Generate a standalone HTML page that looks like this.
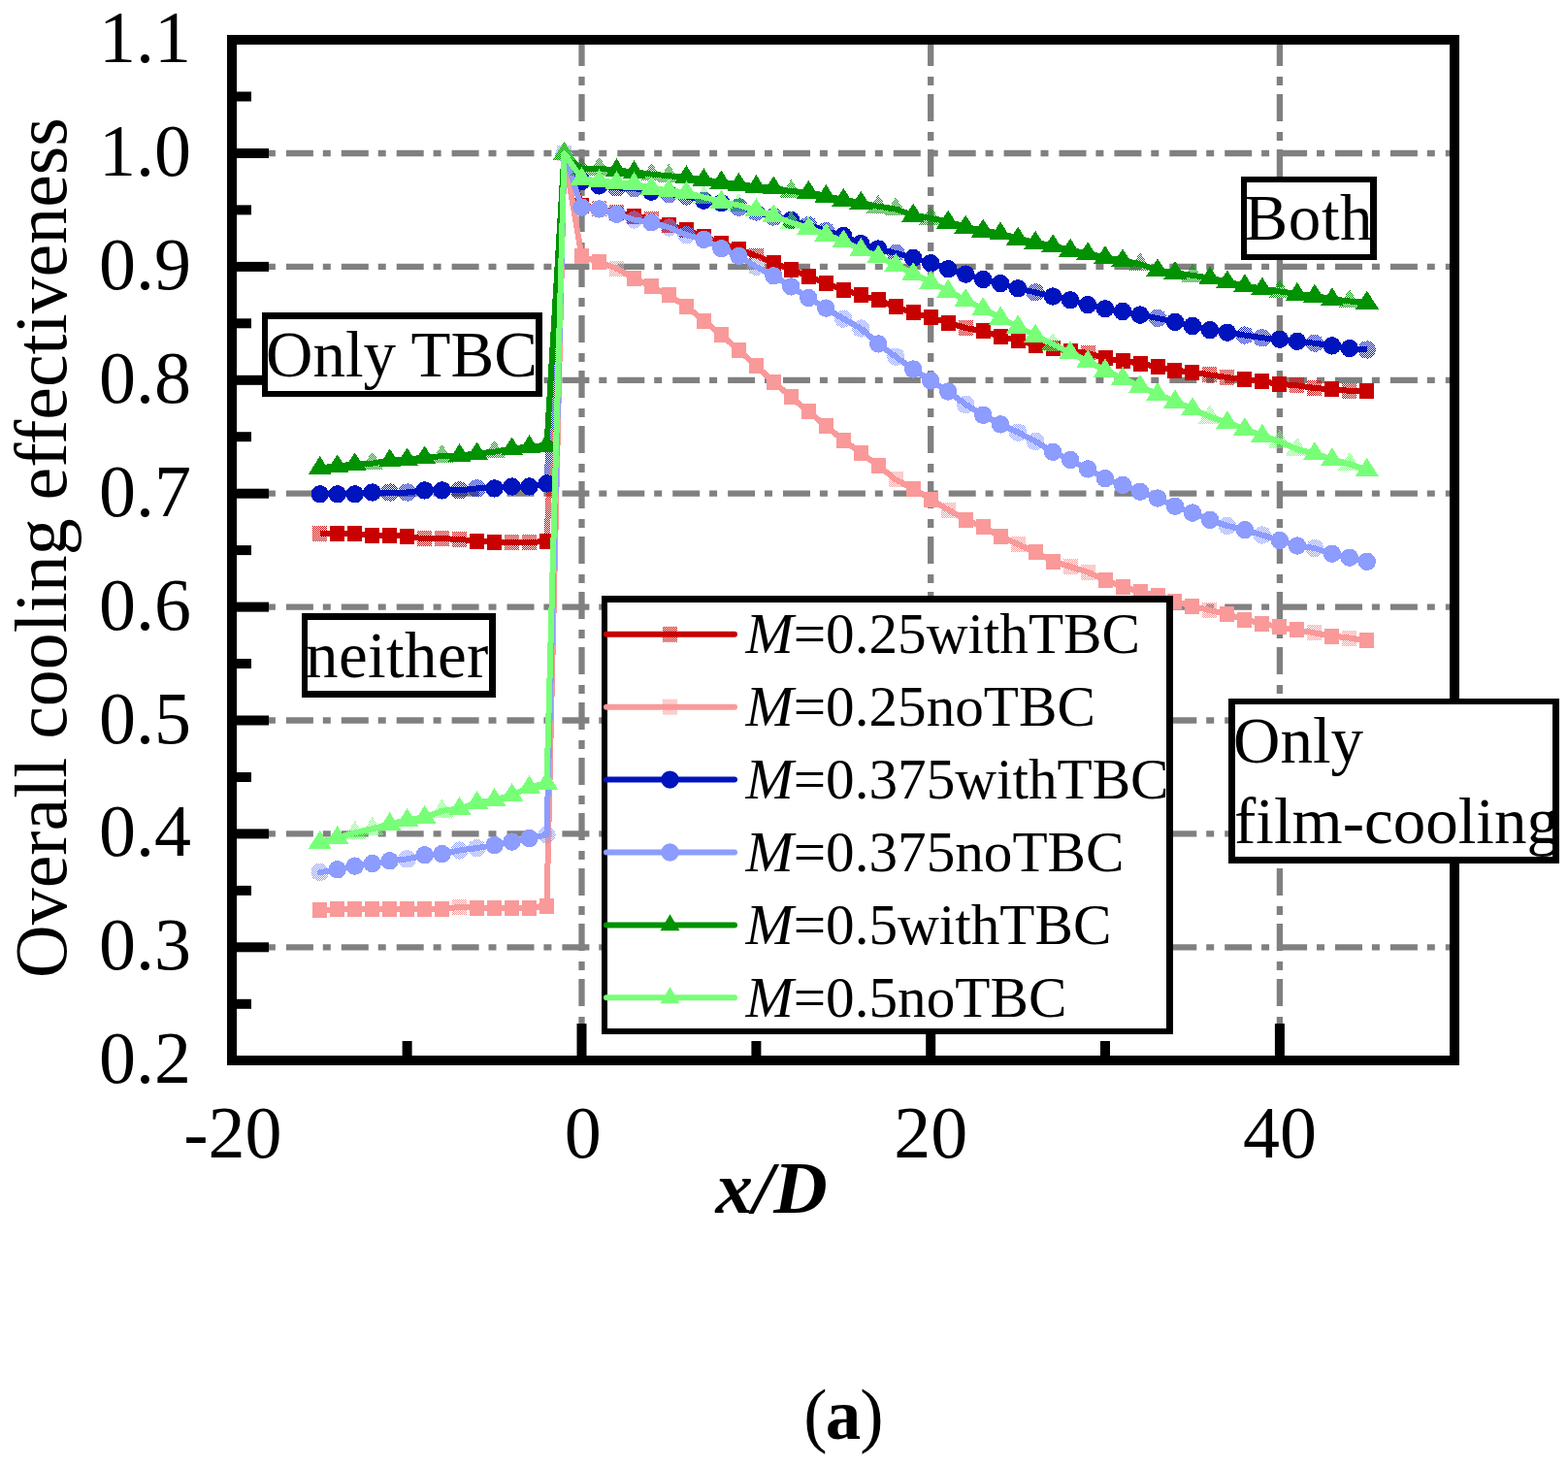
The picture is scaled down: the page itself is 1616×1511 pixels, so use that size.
<!DOCTYPE html>
<html><head><meta charset="utf-8"><title>Overall cooling effectiveness</title>
<style>html,body{margin:0;padding:0;background:#fff;}svg{display:block;}</style>
</head><body>
<svg width="1616" height="1511" viewBox="0 0 1616 1511">
<defs><pattern id="dA" width="2" height="2" patternUnits="userSpaceOnUse"><rect width="1" height="1" fill="#c80000"/><rect x="1" y="1" width="1" height="1" fill="#c80000"/></pattern><pattern id="tA" width="2" height="2" patternUnits="userSpaceOnUse"><rect width="1" height="1" fill="#c80000"/><rect x="1" y="1" width="1" height="1" fill="#c80000"/></pattern><pattern id="dB" width="2" height="2" patternUnits="userSpaceOnUse"><rect width="1" height="1" fill="#fa9999"/><rect x="1" y="1" width="1" height="1" fill="#fa9999"/></pattern><pattern id="tB" width="2" height="2" patternUnits="userSpaceOnUse"><rect width="1" height="1" fill="#fa9999"/><rect x="1" y="1" width="1" height="1" fill="#fa9999"/></pattern><pattern id="dC" width="2" height="2" patternUnits="userSpaceOnUse"><rect width="1" height="1" fill="#0014be"/><rect x="1" y="1" width="1" height="1" fill="#0014be"/></pattern><pattern id="dD" width="2" height="2" patternUnits="userSpaceOnUse"><rect width="1" height="1" fill="#8c9cff"/><rect x="1" y="1" width="1" height="1" fill="#8c9cff"/></pattern><pattern id="dE" width="2" height="2" patternUnits="userSpaceOnUse"><rect width="1" height="1" fill="#009200"/><rect x="1" y="1" width="1" height="1" fill="#009200"/></pattern><pattern id="dF" width="2" height="2" patternUnits="userSpaceOnUse"><rect x="1" width="1" height="1" fill="#78ff78"/><rect y="1" width="1" height="1" fill="#78ff78"/></pattern></defs>
<rect width="1616" height="1511" fill="#fff"/>
<g stroke="#808080" stroke-width="6.3" fill="none"><line x1="238" y1="976.3" x2="1499" y2="976.3" stroke-dasharray="28 9.9 8 11"/><line x1="238" y1="859.4" x2="1499" y2="859.4" stroke-dasharray="28 9.9 8 11"/><line x1="238" y1="742.5" x2="1499" y2="742.5" stroke-dasharray="28 9.9 8 11"/><line x1="238" y1="625.6" x2="1499" y2="625.6" stroke-dasharray="28 9.9 8 11"/><line x1="238" y1="508.7" x2="1499" y2="508.7" stroke-dasharray="28 9.9 8 11"/><line x1="238" y1="391.8" x2="1499" y2="391.8" stroke-dasharray="28 9.9 8 11"/><line x1="238" y1="274.9" x2="1499" y2="274.9" stroke-dasharray="28 9.9 8 11"/><line x1="238" y1="158.0" x2="1499" y2="158.0" stroke-dasharray="28 9.9 8 11"/><line x1="599.5" y1="1094" x2="599.5" y2="41" stroke-dasharray="28 9 9 11"/><line x1="959.2" y1="1094" x2="959.2" y2="41" stroke-dasharray="28 9 9 11"/><line x1="1318.9" y1="1094" x2="1318.9" y2="41" stroke-dasharray="28 9 9 11"/></g>
<g shape-rendering="crispEdges">
<path d="M329.7 550.1 L347.7 550.1 L365.7 550.1 L383.7 551.6 L401.7 551.6 L419.6 553.1 L437.6 555.1 L455.6 555.1 L473.6 556.0 L491.6 557.6 L509.6 559.1 L527.6 559.1 L545.5 559.1 L563.5 557.8" fill="none" stroke="#c80000" stroke-width="6" stroke-linejoin="round" stroke-linecap="butt"/>
<path d="M563.5 557.8 L581.5 158.0" fill="none" stroke="url(#tA)" stroke-width="6" stroke-linejoin="round" stroke-linecap="butt"/>
<path d="M581.5 158.0 L599.5 211.8 L617.5 215.3 L635.5 218.8 L653.5 222.8 L671.4 225.6 L689.4 232.0 L707.4 236.8 L725.4 243.8 L743.4 250.9 L761.4 256.7 L779.4 263.8 L797.3 270.8 L815.3 277.8 L833.3 284.8 L851.3 291.9 L869.3 298.7 L887.3 304.4 L905.2 309.4 L923.2 316.3 L941.2 322.4 L959.2 327.4 L977.2 332.6 L995.2 338.0 L1013.2 341.3 L1031.1 346.9 L1049.1 350.8 L1067.1 355.7 L1085.1 359.1 L1103.1 361.9 L1121.1 363.7 L1139.0 369.5 L1157.0 371.9 L1175.0 374.7 L1193.0 378.2 L1211.0 381.7 L1229.0 383.6 L1247.0 386.4 L1264.9 389.1 L1282.9 391.0 L1300.9 393.2 L1318.9 395.9 L1336.9 397.3 L1354.9 400.0 L1372.9 401.4 L1390.8 402.7 L1408.8 403.5" fill="none" stroke="#c80000" stroke-width="6" stroke-linejoin="round" stroke-linecap="butt"/>
<rect x="322.23" y="542.08" width="15" height="16" fill="url(#dA)"/>
<rect x="340.21" y="542.08" width="15" height="16" fill="#c80000"/>
<rect x="358.19" y="542.08" width="15" height="16" fill="#c80000"/>
<rect x="376.18" y="543.60" width="15" height="16" fill="#c80000"/>
<rect x="394.17" y="543.60" width="15" height="16" fill="#c80000"/>
<rect x="412.15" y="545.12" width="15" height="16" fill="#c80000"/>
<rect x="430.13" y="547.11" width="15" height="16" fill="url(#dA)"/>
<rect x="448.12" y="547.11" width="15" height="16" fill="url(#dA)"/>
<rect x="466.11" y="548.04" width="15" height="16" fill="url(#dA)"/>
<rect x="484.09" y="549.56" width="15" height="16" fill="#c80000"/>
<rect x="502.07" y="551.08" width="15" height="16" fill="#c80000"/>
<rect x="520.06" y="551.08" width="15" height="16" fill="url(#dA)"/>
<rect x="538.04" y="551.08" width="15" height="16" fill="url(#dA)"/>
<rect x="556.03" y="549.80" width="15" height="16" fill="#c80000"/>
<rect x="574.01" y="150.00" width="15" height="16" fill="url(#dA)"/>
<rect x="592.00" y="203.77" width="15" height="16" fill="#c80000"/>
<rect x="609.99" y="207.28" width="15" height="16" fill="url(#dA)"/>
<rect x="627.97" y="210.79" width="15" height="16" fill="url(#dA)"/>
<rect x="645.96" y="214.76" width="15" height="16" fill="#c80000"/>
<rect x="663.94" y="217.57" width="15" height="16" fill="url(#dA)"/>
<rect x="681.92" y="224.00" width="15" height="16" fill="#c80000"/>
<rect x="699.91" y="228.79" width="15" height="16" fill="#c80000"/>
<rect x="717.89" y="235.80" width="15" height="16" fill="#c80000"/>
<rect x="735.88" y="242.94" width="15" height="16" fill="#c80000"/>
<rect x="753.87" y="248.66" width="15" height="16" fill="#c80000"/>
<rect x="771.85" y="255.79" width="15" height="16" fill="url(#dA)"/>
<rect x="789.84" y="262.81" width="15" height="16" fill="#c80000"/>
<rect x="807.82" y="269.82" width="15" height="16" fill="#c80000"/>
<rect x="825.81" y="276.84" width="15" height="16" fill="#c80000"/>
<rect x="843.79" y="283.85" width="15" height="16" fill="#c80000"/>
<rect x="861.77" y="290.75" width="15" height="16" fill="#c80000"/>
<rect x="879.76" y="296.36" width="15" height="16" fill="#c80000"/>
<rect x="897.75" y="301.39" width="15" height="16" fill="#c80000"/>
<rect x="915.73" y="308.28" width="15" height="16" fill="#c80000"/>
<rect x="933.71" y="314.36" width="15" height="16" fill="#c80000"/>
<rect x="951.70" y="319.39" width="15" height="16" fill="#c80000"/>
<rect x="969.68" y="324.65" width="15" height="16" fill="#c80000"/>
<rect x="987.67" y="330.03" width="15" height="16" fill="url(#dA)"/>
<rect x="1005.65" y="333.30" width="15" height="16" fill="#c80000"/>
<rect x="1023.64" y="338.91" width="15" height="16" fill="#c80000"/>
<rect x="1041.62" y="342.77" width="15" height="16" fill="#c80000"/>
<rect x="1059.61" y="347.68" width="15" height="16" fill="#c80000"/>
<rect x="1077.60" y="351.07" width="15" height="16" fill="#c80000"/>
<rect x="1095.58" y="353.87" width="15" height="16" fill="#c80000"/>
<rect x="1113.57" y="355.74" width="15" height="16" fill="url(#dA)"/>
<rect x="1131.55" y="361.47" width="15" height="16" fill="#c80000"/>
<rect x="1149.53" y="363.93" width="15" height="16" fill="#c80000"/>
<rect x="1167.52" y="366.73" width="15" height="16" fill="#c80000"/>
<rect x="1185.51" y="370.24" width="15" height="16" fill="#c80000"/>
<rect x="1203.49" y="373.75" width="15" height="16" fill="#c80000"/>
<rect x="1221.47" y="375.62" width="15" height="16" fill="#c80000"/>
<rect x="1239.46" y="378.42" width="15" height="16" fill="url(#dA)"/>
<rect x="1257.44" y="381.11" width="15" height="16" fill="url(#dA)"/>
<rect x="1275.43" y="382.98" width="15" height="16" fill="#c80000"/>
<rect x="1293.41" y="385.20" width="15" height="16" fill="#c80000"/>
<rect x="1311.40" y="387.89" width="15" height="16" fill="#c80000"/>
<rect x="1329.38" y="389.29" width="15" height="16" fill="url(#dA)"/>
<rect x="1347.37" y="391.98" width="15" height="16" fill="url(#dA)"/>
<rect x="1365.36" y="393.39" width="15" height="16" fill="#c80000"/>
<rect x="1383.34" y="394.67" width="15" height="16" fill="url(#dA)"/>
<rect x="1401.32" y="395.49" width="15" height="16" fill="#c80000"/>
<path d="M329.7 938.4 L347.7 937.0 L365.7 937.0 L383.7 937.0 L401.7 937.0 L419.6 937.0 L437.6 937.0 L455.6 937.0 L473.6 934.9 L491.6 935.5 L509.6 935.5 L527.6 935.5 L545.5 935.5 L563.5 933.7 L581.5 158.0 L599.5 264.4 L617.5 270.2 L635.5 276.7 L653.5 286.6 L671.4 295.2 L689.4 304.5 L707.4 315.8 L725.4 330.5 L743.4 345.3 L761.4 360.8 L779.4 377.2 L797.3 393.6 L815.3 409.3 L833.3 424.3 L851.3 439.1 L869.3 454.0 L887.3 466.6 L905.2 480.1 L923.2 494.3 L941.2 503.8 L959.2 514.5 L977.2 525.5 L995.2 535.6 L1013.2 543.4 L1031.1 552.9 L1049.1 561.0 L1067.1 569.1 L1085.1 578.6 L1103.1 584.1 L1121.1 589.6 L1139.0 597.8 L1157.0 604.6 L1175.0 609.9 L1193.0 614.0 L1211.0 619.5 L1229.0 625.0 L1247.0 629.1 L1264.9 633.2 L1282.9 638.6 L1300.9 642.7 L1318.9 646.3 L1336.9 649.4 L1354.9 652.3 L1372.9 655.5 L1390.8 657.6 L1408.8 660.4" fill="none" stroke="#fa9999" stroke-width="6" stroke-linejoin="round" stroke-linecap="round"/>
<rect x="322.23" y="930.42" width="15" height="16" fill="#fa9999"/>
<rect x="340.21" y="929.02" width="15" height="16" fill="#fa9999"/>
<rect x="358.19" y="929.02" width="15" height="16" fill="#fa9999"/>
<rect x="376.18" y="929.02" width="15" height="16" fill="#fa9999"/>
<rect x="394.17" y="929.02" width="15" height="16" fill="#fa9999"/>
<rect x="412.15" y="929.02" width="15" height="16" fill="#fa9999"/>
<rect x="430.13" y="929.02" width="15" height="16" fill="#fa9999"/>
<rect x="448.12" y="929.02" width="15" height="16" fill="#fa9999"/>
<rect x="466.11" y="926.92" width="15" height="16" fill="url(#dB)"/>
<rect x="484.09" y="927.50" width="15" height="16" fill="#fa9999"/>
<rect x="502.07" y="927.50" width="15" height="16" fill="#fa9999"/>
<rect x="520.06" y="927.50" width="15" height="16" fill="#fa9999"/>
<rect x="538.04" y="927.50" width="15" height="16" fill="#fa9999"/>
<rect x="556.03" y="925.75" width="15" height="16" fill="#fa9999"/>
<rect x="574.01" y="150.00" width="15" height="16" fill="url(#dB)"/>
<rect x="592.00" y="256.38" width="15" height="16" fill="#fa9999"/>
<rect x="609.99" y="262.22" width="15" height="16" fill="#fa9999"/>
<rect x="627.97" y="268.65" width="15" height="16" fill="url(#dB)"/>
<rect x="645.96" y="278.59" width="15" height="16" fill="#fa9999"/>
<rect x="663.94" y="287.24" width="15" height="16" fill="#fa9999"/>
<rect x="681.92" y="296.48" width="15" height="16" fill="#fa9999"/>
<rect x="699.91" y="307.81" width="15" height="16" fill="#fa9999"/>
<rect x="717.89" y="322.54" width="15" height="16" fill="#fa9999"/>
<rect x="735.88" y="337.27" width="15" height="16" fill="#fa9999"/>
<rect x="753.87" y="352.82" width="15" height="16" fill="#fa9999"/>
<rect x="771.85" y="369.19" width="15" height="16" fill="#fa9999"/>
<rect x="789.84" y="385.55" width="15" height="16" fill="#fa9999"/>
<rect x="807.82" y="401.33" width="15" height="16" fill="#fa9999"/>
<rect x="825.81" y="416.30" width="15" height="16" fill="#fa9999"/>
<rect x="843.79" y="431.14" width="15" height="16" fill="#fa9999"/>
<rect x="861.77" y="445.99" width="15" height="16" fill="#fa9999"/>
<rect x="879.76" y="458.62" width="15" height="16" fill="#fa9999"/>
<rect x="897.75" y="472.06" width="15" height="16" fill="#fa9999"/>
<rect x="915.73" y="486.32" width="15" height="16" fill="url(#dB)"/>
<rect x="933.71" y="495.79" width="15" height="16" fill="#fa9999"/>
<rect x="951.70" y="506.55" width="15" height="16" fill="#fa9999"/>
<rect x="969.68" y="517.53" width="15" height="16" fill="url(#dB)"/>
<rect x="987.67" y="527.59" width="15" height="16" fill="#fa9999"/>
<rect x="1005.65" y="535.42" width="15" height="16" fill="#fa9999"/>
<rect x="1023.64" y="544.89" width="15" height="16" fill="#fa9999"/>
<rect x="1041.62" y="552.95" width="15" height="16" fill="url(#dB)"/>
<rect x="1059.61" y="561.14" width="15" height="16" fill="#fa9999"/>
<rect x="1077.60" y="570.61" width="15" height="16" fill="#fa9999"/>
<rect x="1095.58" y="576.10" width="15" height="16" fill="url(#dB)"/>
<rect x="1113.57" y="581.59" width="15" height="16" fill="url(#dB)"/>
<rect x="1131.55" y="589.78" width="15" height="16" fill="#fa9999"/>
<rect x="1149.53" y="596.56" width="15" height="16" fill="#fa9999"/>
<rect x="1167.52" y="601.94" width="15" height="16" fill="#fa9999"/>
<rect x="1185.51" y="606.03" width="15" height="16" fill="#fa9999"/>
<rect x="1203.49" y="611.52" width="15" height="16" fill="#fa9999"/>
<rect x="1221.47" y="617.02" width="15" height="16" fill="#fa9999"/>
<rect x="1239.46" y="621.11" width="15" height="16" fill="url(#dB)"/>
<rect x="1257.44" y="625.20" width="15" height="16" fill="#fa9999"/>
<rect x="1275.43" y="630.58" width="15" height="16" fill="#fa9999"/>
<rect x="1293.41" y="634.67" width="15" height="16" fill="#fa9999"/>
<rect x="1311.40" y="638.29" width="15" height="16" fill="#fa9999"/>
<rect x="1329.38" y="641.45" width="15" height="16" fill="#fa9999"/>
<rect x="1347.37" y="644.25" width="15" height="16" fill="url(#dB)"/>
<rect x="1365.36" y="647.53" width="15" height="16" fill="#fa9999"/>
<rect x="1383.34" y="649.63" width="15" height="16" fill="url(#dB)"/>
<rect x="1401.32" y="652.44" width="15" height="16" fill="#fa9999"/>
<path d="M329.7 509.3 L347.7 509.3 L365.7 509.3 L383.7 507.5 L401.7 507.5 L419.6 507.5 L437.6 505.4 L455.6 505.4 L473.6 505.4 L491.6 503.4 L509.6 503.4 L527.6 501.5 L545.5 501.5 L563.5 498.5" fill="none" stroke="#0014be" stroke-width="6" stroke-linejoin="round" stroke-linecap="butt"/>
<path d="M563.5 498.5 L581.5 158.0" fill="none" stroke="url(#dC)" stroke-width="6" stroke-linejoin="round" stroke-linecap="butt"/>
<path d="M581.5 158.0 L599.5 186.9 L617.5 191.3 L635.5 193.4 L653.5 193.9 L671.4 197.7 L689.4 200.0 L707.4 202.4 L725.4 206.7 L743.4 209.2 L761.4 213.6 L779.4 218.6 L797.3 223.5 L815.3 227.0 L833.3 232.2 L851.3 238.0 L869.3 243.0 L887.3 251.1 L905.2 256.5 L923.2 260.9 L941.2 265.9 L959.2 271.2 L977.2 277.2 L995.2 282.6 L1013.2 288.0 L1031.1 292.1 L1049.1 297.3 L1067.1 301.4 L1085.1 305.5 L1103.1 309.3 L1121.1 314.2 L1139.0 318.3 L1157.0 321.0 L1175.0 324.6 L1193.0 327.9 L1211.0 331.9 L1229.0 336.0 L1247.0 340.1 L1264.9 342.7 L1282.9 345.5 L1300.9 348.3 L1318.9 349.7 L1336.9 351.8 L1354.9 353.7 L1372.9 356.4 L1390.8 359.1 L1408.8 360.5" fill="none" stroke="#0014be" stroke-width="6" stroke-linejoin="round" stroke-linecap="butt"/>
<circle cx="329.7" cy="509.3" r="9.2" fill="#0014be"/>
<circle cx="347.7" cy="509.3" r="9.2" fill="#0014be"/>
<circle cx="365.7" cy="509.3" r="9.2" fill="#0014be"/>
<circle cx="383.7" cy="507.5" r="9.2" fill="#0014be"/>
<circle cx="401.7" cy="507.5" r="9.2" fill="url(#dC)"/>
<circle cx="419.6" cy="507.5" r="9.2" fill="url(#dC)"/>
<circle cx="437.6" cy="505.4" r="9.2" fill="#0014be"/>
<circle cx="455.6" cy="505.4" r="9.2" fill="#0014be"/>
<circle cx="473.6" cy="505.4" r="9.2" fill="url(#dC)"/>
<circle cx="491.6" cy="503.4" r="9.2" fill="url(#dC)"/>
<circle cx="509.6" cy="503.4" r="9.2" fill="#0014be"/>
<circle cx="527.6" cy="501.5" r="9.2" fill="#0014be"/>
<circle cx="545.5" cy="501.5" r="9.2" fill="#0014be"/>
<circle cx="563.5" cy="498.5" r="9.2" fill="#0014be"/>
<circle cx="581.5" cy="158.0" r="9.2" fill="url(#dC)"/>
<circle cx="599.5" cy="186.9" r="9.2" fill="#0014be"/>
<circle cx="617.5" cy="191.3" r="9.2" fill="#0014be"/>
<circle cx="635.5" cy="193.4" r="9.2" fill="url(#dC)"/>
<circle cx="653.5" cy="193.9" r="9.2" fill="url(#dC)"/>
<circle cx="671.4" cy="197.7" r="9.2" fill="#0014be"/>
<circle cx="689.4" cy="200.0" r="9.2" fill="url(#dC)"/>
<circle cx="707.4" cy="202.4" r="9.2" fill="url(#dC)"/>
<circle cx="725.4" cy="206.7" r="9.2" fill="#0014be"/>
<circle cx="743.4" cy="209.2" r="9.2" fill="#0014be"/>
<circle cx="761.4" cy="213.6" r="9.2" fill="url(#dC)"/>
<circle cx="779.4" cy="218.6" r="9.2" fill="url(#dC)"/>
<circle cx="797.3" cy="223.5" r="9.2" fill="url(#dC)"/>
<circle cx="815.3" cy="227.0" r="9.2" fill="#0014be"/>
<circle cx="833.3" cy="232.2" r="9.2" fill="url(#dC)"/>
<circle cx="851.3" cy="238.0" r="9.2" fill="url(#dC)"/>
<circle cx="869.3" cy="243.0" r="9.2" fill="#0014be"/>
<circle cx="887.3" cy="251.1" r="9.2" fill="#0014be"/>
<circle cx="905.2" cy="256.5" r="9.2" fill="#0014be"/>
<circle cx="923.2" cy="260.9" r="9.2" fill="url(#dC)"/>
<circle cx="941.2" cy="265.9" r="9.2" fill="#0014be"/>
<circle cx="959.2" cy="271.2" r="9.2" fill="#0014be"/>
<circle cx="977.2" cy="277.2" r="9.2" fill="#0014be"/>
<circle cx="995.2" cy="282.6" r="9.2" fill="#0014be"/>
<circle cx="1013.2" cy="288.0" r="9.2" fill="#0014be"/>
<circle cx="1031.1" cy="292.1" r="9.2" fill="#0014be"/>
<circle cx="1049.1" cy="297.3" r="9.2" fill="#0014be"/>
<circle cx="1067.1" cy="301.4" r="9.2" fill="url(#dC)"/>
<circle cx="1085.1" cy="305.5" r="9.2" fill="#0014be"/>
<circle cx="1103.1" cy="309.3" r="9.2" fill="#0014be"/>
<circle cx="1121.1" cy="314.2" r="9.2" fill="#0014be"/>
<circle cx="1139.0" cy="318.3" r="9.2" fill="#0014be"/>
<circle cx="1157.0" cy="321.0" r="9.2" fill="#0014be"/>
<circle cx="1175.0" cy="324.6" r="9.2" fill="#0014be"/>
<circle cx="1193.0" cy="327.9" r="9.2" fill="url(#dC)"/>
<circle cx="1211.0" cy="331.9" r="9.2" fill="#0014be"/>
<circle cx="1229.0" cy="336.0" r="9.2" fill="#0014be"/>
<circle cx="1247.0" cy="340.1" r="9.2" fill="#0014be"/>
<circle cx="1264.9" cy="342.7" r="9.2" fill="#0014be"/>
<circle cx="1282.9" cy="345.5" r="9.2" fill="url(#dC)"/>
<circle cx="1300.9" cy="348.3" r="9.2" fill="url(#dC)"/>
<circle cx="1318.9" cy="349.7" r="9.2" fill="#0014be"/>
<circle cx="1336.9" cy="351.8" r="9.2" fill="#0014be"/>
<circle cx="1354.9" cy="353.7" r="9.2" fill="url(#dC)"/>
<circle cx="1372.9" cy="356.4" r="9.2" fill="#0014be"/>
<circle cx="1390.8" cy="359.1" r="9.2" fill="#0014be"/>
<circle cx="1408.8" cy="360.5" r="9.2" fill="url(#dC)"/>
<path d="M329.7 899.1 L347.7 896.2 L365.7 892.6 L383.7 890.1 L401.7 887.2 L419.6 885.4 L437.6 881.3 L455.6 880.1 L473.6 876.5 L491.6 874.1 L509.6 871.1 L527.6 867.6 L545.5 864.1 L563.5 860.5 L581.5 158.0 L599.5 213.6 L617.5 215.4 L635.5 220.7 L653.5 226.6 L671.4 229.3 L689.4 234.5 L707.4 242.2 L725.4 246.8 L743.4 256.2 L761.4 263.8 L779.4 274.9 L797.3 284.3 L815.3 295.4 L833.3 307.0 L851.3 317.6 L869.3 328.7 L887.3 338.6 L905.2 354.4 L923.2 367.7 L941.2 380.5 L959.2 392.4 L977.2 403.5 L995.2 416.8 L1013.2 427.8 L1031.1 437.4 L1049.1 445.6 L1067.1 454.9 L1085.1 465.8 L1103.1 474.0 L1121.1 483.4 L1139.0 493.2 L1157.0 499.9 L1175.0 506.7 L1193.0 513.5 L1211.0 521.7 L1229.0 528.6 L1247.0 535.8 L1264.9 542.0 L1282.9 546.1 L1300.9 551.5 L1318.9 557.0 L1336.9 562.5 L1354.9 565.0 L1372.9 570.7 L1390.8 574.7 L1408.8 578.8" fill="none" stroke="#8c9cff" stroke-width="6" stroke-linejoin="round" stroke-linecap="round"/>
<circle cx="329.7" cy="899.1" r="9.2" fill="url(#dD)"/>
<circle cx="347.7" cy="896.2" r="9.2" fill="#8c9cff"/>
<circle cx="365.7" cy="892.6" r="9.2" fill="#8c9cff"/>
<circle cx="383.7" cy="890.1" r="9.2" fill="#8c9cff"/>
<circle cx="401.7" cy="887.2" r="9.2" fill="#8c9cff"/>
<circle cx="419.6" cy="885.4" r="9.2" fill="url(#dD)"/>
<circle cx="437.6" cy="881.3" r="9.2" fill="#8c9cff"/>
<circle cx="455.6" cy="880.1" r="9.2" fill="#8c9cff"/>
<circle cx="473.6" cy="876.5" r="9.2" fill="url(#dD)"/>
<circle cx="491.6" cy="874.1" r="9.2" fill="url(#dD)"/>
<circle cx="509.6" cy="871.1" r="9.2" fill="#8c9cff"/>
<circle cx="527.6" cy="867.6" r="9.2" fill="#8c9cff"/>
<circle cx="545.5" cy="864.1" r="9.2" fill="#8c9cff"/>
<circle cx="563.5" cy="860.5" r="9.2" fill="url(#dD)"/>
<circle cx="581.5" cy="158.0" r="9.2" fill="url(#dD)"/>
<circle cx="599.5" cy="213.6" r="9.2" fill="#8c9cff"/>
<circle cx="617.5" cy="215.4" r="9.2" fill="#8c9cff"/>
<circle cx="635.5" cy="220.7" r="9.2" fill="#8c9cff"/>
<circle cx="653.5" cy="226.6" r="9.2" fill="url(#dD)"/>
<circle cx="671.4" cy="229.3" r="9.2" fill="#8c9cff"/>
<circle cx="689.4" cy="234.5" r="9.2" fill="url(#dD)"/>
<circle cx="707.4" cy="242.2" r="9.2" fill="url(#dD)"/>
<circle cx="725.4" cy="246.8" r="9.2" fill="#8c9cff"/>
<circle cx="743.4" cy="256.2" r="9.2" fill="#8c9cff"/>
<circle cx="761.4" cy="263.8" r="9.2" fill="#8c9cff"/>
<circle cx="779.4" cy="274.9" r="9.2" fill="url(#dD)"/>
<circle cx="797.3" cy="284.3" r="9.2" fill="#8c9cff"/>
<circle cx="815.3" cy="295.4" r="9.2" fill="#8c9cff"/>
<circle cx="833.3" cy="307.0" r="9.2" fill="#8c9cff"/>
<circle cx="851.3" cy="317.6" r="9.2" fill="#8c9cff"/>
<circle cx="869.3" cy="328.7" r="9.2" fill="url(#dD)"/>
<circle cx="887.3" cy="338.6" r="9.2" fill="url(#dD)"/>
<circle cx="905.2" cy="354.4" r="9.2" fill="#8c9cff"/>
<circle cx="923.2" cy="367.7" r="9.2" fill="url(#dD)"/>
<circle cx="941.2" cy="380.5" r="9.2" fill="#8c9cff"/>
<circle cx="959.2" cy="392.4" r="9.2" fill="#8c9cff"/>
<circle cx="977.2" cy="403.5" r="9.2" fill="#8c9cff"/>
<circle cx="995.2" cy="416.8" r="9.2" fill="url(#dD)"/>
<circle cx="1013.2" cy="427.8" r="9.2" fill="#8c9cff"/>
<circle cx="1031.1" cy="437.4" r="9.2" fill="#8c9cff"/>
<circle cx="1049.1" cy="445.6" r="9.2" fill="url(#dD)"/>
<circle cx="1067.1" cy="454.9" r="9.2" fill="url(#dD)"/>
<circle cx="1085.1" cy="465.8" r="9.2" fill="#8c9cff"/>
<circle cx="1103.1" cy="474.0" r="9.2" fill="#8c9cff"/>
<circle cx="1121.1" cy="483.4" r="9.2" fill="#8c9cff"/>
<circle cx="1139.0" cy="493.2" r="9.2" fill="#8c9cff"/>
<circle cx="1157.0" cy="499.9" r="9.2" fill="#8c9cff"/>
<circle cx="1175.0" cy="506.7" r="9.2" fill="#8c9cff"/>
<circle cx="1193.0" cy="513.5" r="9.2" fill="#8c9cff"/>
<circle cx="1211.0" cy="521.7" r="9.2" fill="#8c9cff"/>
<circle cx="1229.0" cy="528.6" r="9.2" fill="#8c9cff"/>
<circle cx="1247.0" cy="535.8" r="9.2" fill="#8c9cff"/>
<circle cx="1264.9" cy="542.0" r="9.2" fill="url(#dD)"/>
<circle cx="1282.9" cy="546.1" r="9.2" fill="#8c9cff"/>
<circle cx="1300.9" cy="551.5" r="9.2" fill="url(#dD)"/>
<circle cx="1318.9" cy="557.0" r="9.2" fill="#8c9cff"/>
<circle cx="1336.9" cy="562.5" r="9.2" fill="#8c9cff"/>
<circle cx="1354.9" cy="565.0" r="9.2" fill="url(#dD)"/>
<circle cx="1372.9" cy="570.7" r="9.2" fill="#8c9cff"/>
<circle cx="1390.8" cy="574.7" r="9.2" fill="#8c9cff"/>
<circle cx="1408.8" cy="578.8" r="9.2" fill="#8c9cff"/>
<path d="M329.7 482.2 L347.7 480.5 L365.7 478.5 L383.7 477.6 L401.7 474.6 L419.6 473.6 L437.6 471.6 L455.6 470.2 L473.6 469.3 L491.6 467.6 L509.6 465.6 L527.6 462.6 L545.5 460.4 L563.5 458.9 L581.5 158.0 L599.5 174.4 L617.5 173.8 L635.5 175.5 L653.5 177.4 L671.4 179.6 L689.4 181.3 L707.4 182.4 L725.4 185.4 L743.4 187.7 L761.4 190.0 L779.4 192.3 L797.3 193.5 L815.3 197.3 L833.3 197.9 L851.3 202.2 L869.3 205.9 L887.3 209.0 L905.2 212.8 L923.2 215.5 L941.2 221.8 L959.2 224.7 L977.2 228.7 L995.2 233.8 L1013.2 237.7 L1031.1 240.6 L1049.1 245.8 L1067.1 250.0 L1085.1 253.2 L1103.1 257.8 L1121.1 261.3 L1139.0 265.3 L1157.0 268.4 L1175.0 272.2 L1193.0 278.4 L1211.0 281.2 L1229.0 283.9 L1247.0 286.6 L1264.9 290.6 L1282.9 294.5 L1300.9 297.6 L1318.9 300.3 L1336.9 303.0 L1354.9 304.8 L1372.9 308.5 L1390.8 310.4 L1408.8 311.7" fill="none" stroke="#009200" stroke-width="6" stroke-linejoin="round" stroke-linecap="round"/>
<path d="M329.7 470.0L341.7 489.0L317.7 489.0Z" fill="#009200"/>
<path d="M347.7 468.3L359.7 487.3L335.7 487.3Z" fill="#009200"/>
<path d="M365.7 466.3L377.7 485.3L353.7 485.3Z" fill="#009200"/>
<path d="M383.7 465.4L395.7 484.4L371.7 484.4Z" fill="url(#dE)"/>
<path d="M401.7 462.4L413.7 481.4L389.7 481.4Z" fill="#009200"/>
<path d="M419.6 461.4L431.6 480.4L407.6 480.4Z" fill="#009200"/>
<path d="M437.6 459.4L449.6 478.4L425.6 478.4Z" fill="#009200"/>
<path d="M455.6 458.0L467.6 477.0L443.6 477.0Z" fill="url(#dE)"/>
<path d="M473.6 457.1L485.6 476.1L461.6 476.1Z" fill="#009200"/>
<path d="M491.6 455.4L503.6 474.4L479.6 474.4Z" fill="#009200"/>
<path d="M509.6 453.4L521.6 472.4L497.6 472.4Z" fill="url(#dE)"/>
<path d="M527.6 450.4L539.6 469.4L515.6 469.4Z" fill="#009200"/>
<path d="M545.5 448.2L557.5 467.2L533.5 467.2Z" fill="#009200"/>
<path d="M563.5 446.7L575.5 465.7L551.5 465.7Z" fill="#009200"/>
<path d="M581.5 145.8L593.5 164.8L569.5 164.8Z" fill="url(#dE)"/>
<path d="M599.5 162.2L611.5 181.2L587.5 181.2Z" fill="url(#dE)"/>
<path d="M617.5 161.6L629.5 180.6L605.5 180.6Z" fill="url(#dE)"/>
<path d="M635.5 163.3L647.5 182.3L623.5 182.3Z" fill="#009200"/>
<path d="M653.5 165.2L665.5 184.2L641.5 184.2Z" fill="#009200"/>
<path d="M671.4 167.4L683.4 186.4L659.4 186.4Z" fill="url(#dE)"/>
<path d="M689.4 169.1L701.4 188.1L677.4 188.1Z" fill="url(#dE)"/>
<path d="M707.4 170.2L719.4 189.2L695.4 189.2Z" fill="#009200"/>
<path d="M725.4 173.2L737.4 192.2L713.4 192.2Z" fill="#009200"/>
<path d="M743.4 175.5L755.4 194.5L731.4 194.5Z" fill="#009200"/>
<path d="M761.4 177.8L773.4 196.8L749.4 196.8Z" fill="#009200"/>
<path d="M779.4 180.1L791.4 199.1L767.4 199.1Z" fill="#009200"/>
<path d="M797.3 181.3L809.3 200.3L785.3 200.3Z" fill="#009200"/>
<path d="M815.3 185.1L827.3 204.1L803.3 204.1Z" fill="url(#dE)"/>
<path d="M833.3 185.7L845.3 204.7L821.3 204.7Z" fill="#009200"/>
<path d="M851.3 190.0L863.3 209.0L839.3 209.0Z" fill="#009200"/>
<path d="M869.3 193.7L881.3 212.7L857.3 212.7Z" fill="#009200"/>
<path d="M887.3 196.8L899.3 215.8L875.3 215.8Z" fill="#009200"/>
<path d="M905.2 200.6L917.2 219.6L893.2 219.6Z" fill="url(#dE)"/>
<path d="M923.2 203.3L935.2 222.3L911.2 222.3Z" fill="url(#dE)"/>
<path d="M941.2 209.6L953.2 228.6L929.2 228.6Z" fill="#009200"/>
<path d="M959.2 212.5L971.2 231.5L947.2 231.5Z" fill="url(#dE)"/>
<path d="M977.2 216.5L989.2 235.5L965.2 235.5Z" fill="#009200"/>
<path d="M995.2 221.6L1007.2 240.6L983.2 240.6Z" fill="#009200"/>
<path d="M1013.2 225.5L1025.2 244.5L1001.2 244.5Z" fill="#009200"/>
<path d="M1031.1 228.4L1043.1 247.4L1019.1 247.4Z" fill="#009200"/>
<path d="M1049.1 233.6L1061.1 252.6L1037.1 252.6Z" fill="#009200"/>
<path d="M1067.1 237.8L1079.1 256.8L1055.1 256.8Z" fill="#009200"/>
<path d="M1085.1 241.0L1097.1 260.0L1073.1 260.0Z" fill="#009200"/>
<path d="M1103.1 245.6L1115.1 264.6L1091.1 264.6Z" fill="#009200"/>
<path d="M1121.1 249.1L1133.1 268.1L1109.1 268.1Z" fill="#009200"/>
<path d="M1139.0 253.1L1151.0 272.1L1127.0 272.1Z" fill="#009200"/>
<path d="M1157.0 256.2L1169.0 275.2L1145.0 275.2Z" fill="#009200"/>
<path d="M1175.0 260.0L1187.0 279.0L1163.0 279.0Z" fill="url(#dE)"/>
<path d="M1193.0 266.2L1205.0 285.2L1181.0 285.2Z" fill="#009200"/>
<path d="M1211.0 269.0L1223.0 288.0L1199.0 288.0Z" fill="#009200"/>
<path d="M1229.0 271.7L1241.0 290.7L1217.0 290.7Z" fill="url(#dE)"/>
<path d="M1247.0 274.4L1259.0 293.4L1235.0 293.4Z" fill="#009200"/>
<path d="M1264.9 278.4L1276.9 297.4L1252.9 297.4Z" fill="#009200"/>
<path d="M1282.9 282.3L1294.9 301.3L1270.9 301.3Z" fill="#009200"/>
<path d="M1300.9 285.4L1312.9 304.4L1288.9 304.4Z" fill="#009200"/>
<path d="M1318.9 288.1L1330.9 307.1L1306.9 307.1Z" fill="url(#dE)"/>
<path d="M1336.9 290.8L1348.9 309.8L1324.9 309.8Z" fill="#009200"/>
<path d="M1354.9 292.6L1366.9 311.6L1342.9 311.6Z" fill="#009200"/>
<path d="M1372.9 296.3L1384.9 315.3L1360.9 315.3Z" fill="#009200"/>
<path d="M1390.8 298.2L1402.8 317.2L1378.8 317.2Z" fill="url(#dE)"/>
<path d="M1408.8 299.5L1420.8 318.5L1396.8 318.5Z" fill="#009200"/>
<path d="M329.7 868.1 L347.7 863.3 L365.7 858.3 L383.7 854.3 L401.7 849.3 L419.6 845.3 L437.6 842.3 L455.6 835.9 L473.6 833.3 L491.6 827.4 L509.6 824.4 L527.6 819.5 L545.5 811.4 L563.5 807.3 L581.5 158.0 L599.5 184.2 L617.5 186.5 L635.5 188.3 L653.5 189.4 L671.4 193.8 L689.4 196.5 L707.4 198.4 L725.4 203.4 L743.4 207.8 L761.4 211.5 L779.4 216.4 L797.3 222.6 L815.3 229.4 L833.3 234.9 L851.3 241.8 L869.3 248.6 L887.3 257.1 L905.2 264.5 L923.2 273.0 L941.2 282.3 L959.2 290.9 L977.2 299.9 L995.2 309.4 L1013.2 318.4 L1031.1 327.7 L1049.1 336.7 L1067.1 346.0 L1085.1 354.9 L1103.1 363.6 L1121.1 372.4 L1139.0 381.7 L1157.0 389.9 L1175.0 398.1 L1193.0 406.3 L1211.0 413.7 L1229.0 421.5 L1247.0 429.7 L1264.9 435.5 L1282.9 442.2 L1300.9 449.0 L1318.9 455.0 L1336.9 463.1 L1354.9 467.4 L1372.9 473.5 L1390.8 478.3 L1408.8 484.0" fill="none" stroke="#78ff78" stroke-width="6" stroke-linejoin="round" stroke-linecap="round"/>
<path d="M329.7 855.9L341.7 874.9L317.7 874.9Z" fill="#78ff78"/>
<path d="M347.7 851.1L359.7 870.1L335.7 870.1Z" fill="#78ff78"/>
<path d="M365.7 846.1L377.7 865.1L353.7 865.1Z" fill="url(#dF)"/>
<path d="M383.7 842.1L395.7 861.1L371.7 861.1Z" fill="url(#dF)"/>
<path d="M401.7 837.1L413.7 856.1L389.7 856.1Z" fill="#78ff78"/>
<path d="M419.6 833.1L431.6 852.1L407.6 852.1Z" fill="#78ff78"/>
<path d="M437.6 830.1L449.6 849.1L425.6 849.1Z" fill="#78ff78"/>
<path d="M455.6 823.7L467.6 842.7L443.6 842.7Z" fill="url(#dF)"/>
<path d="M473.6 821.1L485.6 840.1L461.6 840.1Z" fill="#78ff78"/>
<path d="M491.6 815.2L503.6 834.2L479.6 834.2Z" fill="#78ff78"/>
<path d="M509.6 812.2L521.6 831.2L497.6 831.2Z" fill="#78ff78"/>
<path d="M527.6 807.3L539.6 826.3L515.6 826.3Z" fill="#78ff78"/>
<path d="M545.5 799.2L557.5 818.2L533.5 818.2Z" fill="#78ff78"/>
<path d="M563.5 795.1L575.5 814.1L551.5 814.1Z" fill="#78ff78"/>
<path d="M581.5 145.8L593.5 164.8L569.5 164.8Z" fill="url(#dF)"/>
<path d="M599.5 172.0L611.5 191.0L587.5 191.0Z" fill="#78ff78"/>
<path d="M617.5 174.3L629.5 193.3L605.5 193.3Z" fill="#78ff78"/>
<path d="M635.5 176.1L647.5 195.1L623.5 195.1Z" fill="#78ff78"/>
<path d="M653.5 177.2L665.5 196.2L641.5 196.2Z" fill="#78ff78"/>
<path d="M671.4 181.6L683.4 200.6L659.4 200.6Z" fill="#78ff78"/>
<path d="M689.4 184.3L701.4 203.3L677.4 203.3Z" fill="#78ff78"/>
<path d="M707.4 186.2L719.4 205.2L695.4 205.2Z" fill="#78ff78"/>
<path d="M725.4 191.2L737.4 210.2L713.4 210.2Z" fill="url(#dF)"/>
<path d="M743.4 195.6L755.4 214.6L731.4 214.6Z" fill="#78ff78"/>
<path d="M761.4 199.3L773.4 218.3L749.4 218.3Z" fill="url(#dF)"/>
<path d="M779.4 204.2L791.4 223.2L767.4 223.2Z" fill="#78ff78"/>
<path d="M797.3 210.4L809.3 229.4L785.3 229.4Z" fill="#78ff78"/>
<path d="M815.3 217.2L827.3 236.2L803.3 236.2Z" fill="url(#dF)"/>
<path d="M833.3 222.7L845.3 241.7L821.3 241.7Z" fill="#78ff78"/>
<path d="M851.3 229.6L863.3 248.6L839.3 248.6Z" fill="#78ff78"/>
<path d="M869.3 236.4L881.3 255.4L857.3 255.4Z" fill="#78ff78"/>
<path d="M887.3 244.9L899.3 263.9L875.3 263.9Z" fill="#78ff78"/>
<path d="M905.2 252.3L917.2 271.3L893.2 271.3Z" fill="#78ff78"/>
<path d="M923.2 260.8L935.2 279.8L911.2 279.8Z" fill="#78ff78"/>
<path d="M941.2 270.1L953.2 289.1L929.2 289.1Z" fill="#78ff78"/>
<path d="M959.2 278.7L971.2 297.7L947.2 297.7Z" fill="#78ff78"/>
<path d="M977.2 287.7L989.2 306.7L965.2 306.7Z" fill="#78ff78"/>
<path d="M995.2 297.2L1007.2 316.2L983.2 316.2Z" fill="#78ff78"/>
<path d="M1013.2 306.2L1025.2 325.2L1001.2 325.2Z" fill="#78ff78"/>
<path d="M1031.1 315.5L1043.1 334.5L1019.1 334.5Z" fill="#78ff78"/>
<path d="M1049.1 324.5L1061.1 343.5L1037.1 343.5Z" fill="#78ff78"/>
<path d="M1067.1 333.8L1079.1 352.8L1055.1 352.8Z" fill="#78ff78"/>
<path d="M1085.1 342.7L1097.1 361.7L1073.1 361.7Z" fill="url(#dF)"/>
<path d="M1103.1 351.4L1115.1 370.4L1091.1 370.4Z" fill="#78ff78"/>
<path d="M1121.1 360.2L1133.1 379.2L1109.1 379.2Z" fill="#78ff78"/>
<path d="M1139.0 369.5L1151.0 388.5L1127.0 388.5Z" fill="#78ff78"/>
<path d="M1157.0 377.7L1169.0 396.7L1145.0 396.7Z" fill="#78ff78"/>
<path d="M1175.0 385.9L1187.0 404.9L1163.0 404.9Z" fill="#78ff78"/>
<path d="M1193.0 394.1L1205.0 413.1L1181.0 413.1Z" fill="#78ff78"/>
<path d="M1211.0 401.5L1223.0 420.5L1199.0 420.5Z" fill="#78ff78"/>
<path d="M1229.0 409.3L1241.0 428.3L1217.0 428.3Z" fill="#78ff78"/>
<path d="M1247.0 417.5L1259.0 436.5L1235.0 436.5Z" fill="url(#dF)"/>
<path d="M1264.9 423.3L1276.9 442.3L1252.9 442.3Z" fill="#78ff78"/>
<path d="M1282.9 430.0L1294.9 449.0L1270.9 449.0Z" fill="#78ff78"/>
<path d="M1300.9 436.8L1312.9 455.8L1288.9 455.8Z" fill="#78ff78"/>
<path d="M1318.9 442.8L1330.9 461.8L1306.9 461.8Z" fill="url(#dF)"/>
<path d="M1336.9 450.9L1348.9 469.9L1324.9 469.9Z" fill="url(#dF)"/>
<path d="M1354.9 455.2L1366.9 474.2L1342.9 474.2Z" fill="#78ff78"/>
<path d="M1372.9 461.3L1384.9 480.3L1360.9 480.3Z" fill="#78ff78"/>
<path d="M1390.8 466.1L1402.8 485.1L1378.8 485.1Z" fill="url(#dF)"/>
<path d="M1408.8 471.8L1420.8 490.8L1396.8 490.8Z" fill="#78ff78"/>
</g>
<g fill="#000"><rect x="244" y="971.3" width="33" height="10"/><rect x="244" y="854.4" width="33" height="10"/><rect x="244" y="737.5" width="33" height="10"/><rect x="244" y="620.6" width="33" height="10"/><rect x="244" y="503.7" width="33" height="10"/><rect x="244" y="386.8" width="33" height="10"/><rect x="244" y="269.9" width="33" height="10"/><rect x="244" y="153.0" width="33" height="10"/><rect x="244" y="1029.8" width="15" height="10"/><rect x="244" y="912.9" width="15" height="10"/><rect x="244" y="796.0" width="15" height="10"/><rect x="244" y="679.0" width="15" height="10"/><rect x="244" y="562.1" width="15" height="10"/><rect x="244" y="445.2" width="15" height="10"/><rect x="244" y="328.3" width="15" height="10"/><rect x="244" y="211.4" width="15" height="10"/><rect x="244" y="94.5" width="15" height="10"/><rect x="594.5" y="1055" width="10" height="33"/><rect x="954.2" y="1055" width="10" height="33"/><rect x="1313.9" y="1055" width="10" height="33"/><rect x="414.6" y="1073" width="10" height="15"/><rect x="774.4" y="1073" width="10" height="15"/><rect x="1134.0" y="1073" width="10" height="15"/></g><rect x="239" y="41" width="1260" height="1052" fill="none" stroke="#000" stroke-width="10"/>
<g font-family="'Liberation Serif', 'Times New Roman', serif" font-size="76" fill="#000"><text x="197" y="1116.2" text-anchor="end">0.2</text><text x="197" y="999.3" text-anchor="end">0.3</text><text x="197" y="882.4" text-anchor="end">0.4</text><text x="197" y="765.5" text-anchor="end">0.5</text><text x="197" y="648.6" text-anchor="end">0.6</text><text x="197" y="531.7" text-anchor="end">0.7</text><text x="197" y="414.8" text-anchor="end">0.8</text><text x="197" y="297.9" text-anchor="end">0.9</text><text x="197" y="181.0" text-anchor="end">1.0</text><text x="197" y="64.1" text-anchor="end">1.1</text><text x="239.8" y="1193" text-anchor="middle">-20</text><text x="600.7" y="1193" text-anchor="middle">0</text><text x="959.2" y="1193" text-anchor="middle">20</text><text x="1318.9" y="1193" text-anchor="middle">40</text></g>

<g font-family="'Liberation Serif', 'Times New Roman', serif" font-size="67" fill="#000">
 <rect x="270" y="322" width="289" height="87" fill="#fff"/><path d="M270 322H559V409H270ZM276 329V403H552V329Z" fill="#000" fill-rule="evenodd"/>
 <text x="274" y="388.3">Only TBC</text>
 <rect x="311" y="632" width="200" height="87" fill="#fff"/><path d="M311 632H511V719H311ZM317 639V712H504V639Z" fill="#000" fill-rule="evenodd"/>
 <text x="315" y="698" letter-spacing="0.4">neither</text>
 <rect x="1279" y="182" width="140" height="86" fill="#fff"/><path d="M1279 182H1419V268H1279ZM1285 188V262H1412V188Z" fill="#000" fill-rule="evenodd"/>
 <text x="1282.5" y="246.9" letter-spacing="0.6">Both</text>
 <rect x="1266" y="720" width="341" height="170" fill="#fff"/><path d="M1266 720H1607V890H1266ZM1273 726V883H1600V726Z" fill="#000" fill-rule="evenodd"/>
 <text x="1271" y="786">Only</text>
 <text x="1272" y="868.7">film-cooling</text>
</g>
<rect x="620" y="614" width="589" height="452" fill="#fff"/><path d="M620 614H1209V1066H620ZM626 621V1060H1202V621Z" fill="#000" fill-rule="evenodd"/>
<line x1="625" y1="653.8" x2="757" y2="653.8" stroke="#c80000" stroke-width="6" stroke-linecap="round"/>
<rect x="683.00" y="645.80" width="15" height="16" fill="url(#dA)"/>
<text x="768.4" y="673.1" font-family="'Liberation Serif', 'Times New Roman', serif" font-size="59.2"><tspan font-style="italic">M</tspan>=0.25withTBC</text>
<line x1="625" y1="728.7" x2="757" y2="728.7" stroke="#fa9999" stroke-width="6" stroke-linecap="round"/>
<rect x="683.00" y="720.70" width="15" height="16" fill="url(#dB)"/>
<text x="768.4" y="748.0" font-family="'Liberation Serif', 'Times New Roman', serif" font-size="59.2"><tspan font-style="italic">M</tspan>=0.25noTBC</text>
<line x1="625" y1="803.6" x2="757" y2="803.6" stroke="#0014be" stroke-width="6" stroke-linecap="round"/>
<circle cx="690.5" cy="803.6" r="9.2" fill="#0014be"/>
<text x="768.4" y="822.9" font-family="'Liberation Serif', 'Times New Roman', serif" font-size="59.2"><tspan font-style="italic">M</tspan>=0.375withTBC</text>
<line x1="625" y1="878.5" x2="757" y2="878.5" stroke="#8c9cff" stroke-width="6" stroke-linecap="round"/>
<circle cx="690.5" cy="878.5" r="9.2" fill="#8c9cff"/>
<text x="768.4" y="897.8" font-family="'Liberation Serif', 'Times New Roman', serif" font-size="59.2"><tspan font-style="italic">M</tspan>=0.375noTBC</text>
<line x1="625" y1="953.4" x2="757" y2="953.4" stroke="#009200" stroke-width="6" stroke-linecap="round"/>
<path d="M690.5 942.2L700.5 959.3L680.5 959.3Z" fill="#009200"/>
<text x="768.4" y="972.7" font-family="'Liberation Serif', 'Times New Roman', serif" font-size="59.2"><tspan font-style="italic">M</tspan>=0.5withTBC</text>
<line x1="625" y1="1028.3" x2="757" y2="1028.3" stroke="#78ff78" stroke-width="6" stroke-linecap="round"/>
<path d="M690.5 1017.1L700.5 1034.2L680.5 1034.2Z" fill="#78ff78"/>
<text x="768.4" y="1047.6" font-family="'Liberation Serif', 'Times New Roman', serif" font-size="59.2"><tspan font-style="italic">M</tspan>=0.5noTBC</text>

<text transform="translate(68,1008) rotate(-90)" font-family="'Liberation Serif', 'Times New Roman', serif" font-size="75.8">Overall cooling effectiveness</text>
<text x="737.5" y="1250" font-family="'Liberation Serif', 'Times New Roman', serif" font-size="76.8" font-weight="bold" font-style="italic">x/D</text>
<text y="1483.4" font-family="'Liberation Serif', 'Times New Roman', serif" font-size="73"><tspan x="828.2">(</tspan><tspan x="850.8" font-weight="bold">a</tspan><tspan x="886.3">)</tspan></text>

</svg>
</body></html>
